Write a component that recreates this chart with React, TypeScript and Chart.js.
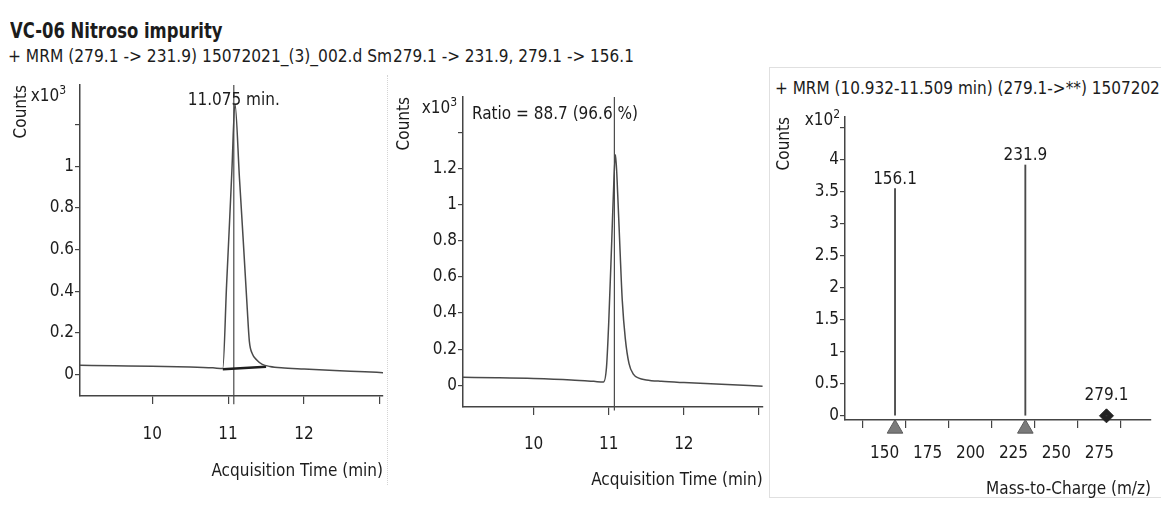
import React, { useEffect, useRef } from "react";
import { Chart, registerables } from "chart.js";

Chart.register(...registerables);

const FONT = '"DejaVu Sans Condensed", "Liberation Sans Narrow", "DejaVu Sans", sans-serif';
const INK = "#1c1c1c";
const LINE = "#444";

// ---------------- Data ----------------
// Panel 1: + MRM (279.1 -> 231.9), counts x10^3
const time1 = [9.05, 9.5, 10.0, 10.5, 10.8, 10.93, 10.98, 11.02, 11.05, 11.09, 11.15, 11.2, 11.25, 11.28, 11.32, 11.38, 11.45, 11.55, 11.7, 12.0, 12.4, 12.8, 13.04];
const counts1 = [0.045, 0.043, 0.041, 0.037, 0.033, 0.03, 0.43, 0.74, 0.98, 1.3, 0.94, 0.64, 0.33, 0.16, 0.1, 0.07, 0.05, 0.04, 0.033, 0.027, 0.02, 0.014, 0.01];
const integTime1 = [10.93, 11.5];
const integCounts1 = [0.026, 0.038];
const rt1 = 11.075;
const xLabeled1 = [10, 11, 12];
const yLabeled1 = [0, 0.2, 0.4, 0.6, 0.8, 1];

// Panel 2: 279.1 -> 231.9, 279.1 -> 156.1 overlay, counts x10^3
const time2 = [9.06, 9.5, 10.0, 10.5, 10.8, 10.93, 10.97, 11.0, 11.04, 11.07, 11.09, 11.12, 11.15, 11.18, 11.22, 11.27, 11.33, 11.4, 11.5, 11.7, 12.0, 12.5, 13.05];
const counts2 = [0.044, 0.042, 0.038, 0.03, 0.022, 0.018, 0.1, 0.35, 0.8, 1.15, 1.276, 1.05, 0.75, 0.47, 0.26, 0.12, 0.06, 0.04, 0.03, 0.022, 0.015, 0.006, -0.005];
const rt2 = 11.075;
const xLabeled2 = [10, 11, 12];
const yLabeled2 = [0, 0.2, 0.4, 0.6, 0.8, 1, 1.2];

// Panel 3: MRM spectrum, counts x10^2
const mz3 = [156.1, 231.9, 279.1];
const abund3 = [3.55, 3.92, 0];
const productIons3 = [156.1, 231.9];
const precursor3 = [279.1];
const xLabeled3 = [150, 175, 200, 225, 250, 275];
const yLabeled3 = [0, 0.5, 1, 1.5, 2, 2.5, 3, 3.5, 4];

// ---------------- Helpers ----------------
const FS = 17;
const tickFont = { family: FONT, size: FS };
const fmt = (v: number) => String(parseFloat(v.toFixed(2)));
const isLabeled = (list: number[], v: number) => list.some((l) => Math.abs(l - v) < 1e-6);

function xAxis(min: number, max: number, step: number, labeled: number[], title: string, height: number, tickPad: number, titlePad: number) {
  return {
    type: "linear",
    min,
    max,
    ticks: {
      stepSize: step,
      includeBounds: false,
      autoSkip: false,
      maxRotation: 0,
      color: INK,
      font: tickFont,
      padding: tickPad,
      callback: (v: any) => (isLabeled(labeled, Number(v)) ? fmt(Number(v)) : ""),
    },
    grid: { drawOnChartArea: false, drawTicks: true, tickLength: 8, color: LINE, lineWidth: 1.2 },
    border: { display: true, color: LINE, width: 1.5 },
    title: { display: true, text: title, align: "end", color: INK, font: tickFont, padding: { top: 0, bottom: titlePad } },
    afterFit: (s: any) => {
      s.height = height;
    },
  };
}

function yAxis(min: number, max: number, step: number, labeled: number[], width: number, titlePad: number) {
  return {
    type: "linear",
    min,
    max,
    ticks: {
      stepSize: step,
      includeBounds: false,
      autoSkip: false,
      color: INK,
      font: tickFont,
      padding: 1,
      callback: (v: any) => (isLabeled(labeled, Number(v)) ? fmt(Number(v)) : ""),
    },
    grid: { drawOnChartArea: false, drawTicks: true, tickLength: 5, color: LINE, lineWidth: 1.2 },
    border: { display: true, color: LINE, width: 1.5 },
    title: { display: true, text: "Counts", align: "end", color: INK, font: tickFont, padding: { top: titlePad, bottom: 0 } },
    afterFit: (s: any) => {
      s.width = width;
    },
  };
}

function drawExp(ctx: CanvasRenderingContext2D, right: number, cy: number, base: string, exp: string, size: number) {
  ctx.save();
  ctx.fillStyle = INK;
  ctx.textBaseline = "middle";
  ctx.textAlign = "left";
  ctx.font = `${size}px ${FONT}`;
  const wb = ctx.measureText(base).width;
  const small = Math.round(size * 0.7);
  ctx.font = `${small}px ${FONT}`;
  const we = ctx.measureText(exp).width;
  const x0 = right - wb - we;
  ctx.font = `${size}px ${FONT}`;
  ctx.fillText(base, x0, cy);
  ctx.font = `${small}px ${FONT}`;
  ctx.fillText(exp, x0 + wb, cy - size * 0.35);
  ctx.restore();
}

function drawText(ctx: CanvasRenderingContext2D, text: string, x: number, y: number, align: CanvasTextAlign) {
  ctx.save();
  ctx.fillStyle = INK;
  ctx.font = `${FS}px ${FONT}`;
  ctx.textAlign = align;
  ctx.textBaseline = "middle";
  ctx.fillText(text, x, y);
  ctx.restore();
}

const pts = (xs: number[], ys: number[]) => xs.map((x, i) => ({ x, y: ys[i] }));

// ---------------- Configs ----------------
function config1(): any {
  const yMin = -0.102;
  const yMax = 1.39;
  return {
    type: "line",
    data: {
      datasets: [
        { data: pts(time1, counts1), borderColor: "#4a4a4a", borderWidth: 1.5, pointRadius: 0, cubicInterpolationMode: "monotone" },
        { data: pts(integTime1, integCounts1), borderColor: "#1e1e1e", borderWidth: 2.6, pointRadius: 0 },
        { data: [{ x: rt1, y: yMin - 0.04 }, { x: rt1, y: yMax }], borderColor: "#4a4a4a", borderWidth: 1.2, pointRadius: 0, clip: false },
      ],
    },
    options: {
      animation: false,
      responsive: false,
      events: [],
      layout: { padding: { top: 15, right: 0, left: 0, bottom: 2 } },
      plugins: { legend: { display: false }, tooltip: { enabled: false } },
      scales: {
        x: xAxis(9.05, 13.04, 1, xLabeled1, "Acquisition Time (min)", 86, 20, 0),
        y: yAxis(yMin, yMax, 0.2, yLabeled1, 80, 11),
      },
    },
    plugins: [
      {
        id: "annot1",
        afterDatasetsDraw(chart: any) {
          const { ctx, chartArea: ca, scales } = chart;
          drawExp(ctx, ca.left - 14, ca.top + 12, "x10", "3", FS);
          drawText(ctx, "11.075 min.", scales.x.getPixelForValue(rt1), ca.top + 16, "center");
        },
      },
    ],
  };
}

function config2(): any {
  const yMin = -0.12;
  const yMax = 1.595;
  return {
    type: "line",
    data: {
      datasets: [
        { data: pts(time2, counts2), borderColor: "#4a4a4a", borderWidth: 1.5, pointRadius: 0, cubicInterpolationMode: "monotone" },
        { data: [{ x: rt2, y: yMin - 0.02 }, { x: rt2, y: yMax }], borderColor: "#4a4a4a", borderWidth: 1.2, pointRadius: 0, clip: false },
      ],
    },
    options: {
      animation: false,
      responsive: false,
      events: [],
      layout: { padding: { top: 27, right: 0, left: 0, bottom: 1 } },
      plugins: { legend: { display: false }, tooltip: { enabled: false } },
      scales: {
        x: xAxis(9.06, 13.05, 1, xLabeled2, "Acquisition Time (min)", 84, 19, 0),
        y: yAxis(yMin, yMax, 0.2, yLabeled2, 71, 2),
      },
    },
    plugins: [
      {
        id: "annot2",
        afterDatasetsDraw(chart: any) {
          const { ctx, chartArea: ca } = chart;
          drawExp(ctx, ca.left - 6, ca.top + 12, "x10", "3", FS);
          drawText(ctx, "Ratio = 88.7 (96.6 %)", ca.left + 9, ca.top + 18, "left");
        },
      },
    ],
  };
}

function config3(): any {
  const yMin = -0.065;
  const yMax = 4.67;
  return {
    type: "bar",
    data: {
      datasets: [
        { type: "bar", data: pts(mz3, abund3), backgroundColor: "#4a4a4a", barThickness: 1.2, borderWidth: 0 },
        {
          type: "scatter",
          data: productIons3.map((m) => ({ x: m, y: -0.2 })),
          pointStyle: "triangle",
          pointRadius: 9,
          backgroundColor: "#7a7a7a",
          borderColor: "#5a5a5a",
          borderWidth: 1,
          clip: false,
        },
        {
          type: "scatter",
          data: precursor3.map((m) => ({ x: m, y: abund3[mz3.indexOf(m)] })),
          pointStyle: "rectRot",
          pointRadius: 7,
          backgroundColor: "#222",
          borderColor: "#222",
          borderWidth: 1,
          clip: false,
        },
      ],
    },
    options: {
      animation: false,
      responsive: false,
      events: [],
      layout: { padding: { top: 17, right: 6, left: 0, bottom: 0 } },
      plugins: { legend: { display: false }, tooltip: { enabled: false } },
      scales: {
        x: { ...xAxis(127, 305, 25, xLabeled3, "Mass-to-Charge (m/z)", 80, 15, 0), offset: false },
        y: yAxis(yMin, yMax, 0.5, yLabeled3, 73, 2),
      },
    },
    plugins: [
      {
        id: "annot3",
        afterDatasetsDraw(chart: any) {
          const { ctx, chartArea: ca, scales } = chart;
          drawExp(ctx, ca.left - 5, ca.top + 4, "x10", "2", FS);
          mz3.forEach((m, i) => {
            const x = scales.x.getPixelForValue(m);
            const y = scales.y.getPixelForValue(abund3[i]);
            const isPre = precursor3.includes(m);
            drawText(ctx, m.toFixed(1), x, isPre ? y - 20 : y - 9, "center");
          });
        },
      },
    ],
  };
}

// ---------------- Components ----------------
function ChartCanvas(props: { left: number; top: number; width: number; height: number; make: () => any }) {
  const ref = useRef<HTMLCanvasElement | null>(null);
  useEffect(() => {
    const chart = new Chart(ref.current as HTMLCanvasElement, props.make());
    return () => chart.destroy();
  }, []);
  return (
    <canvas
      ref={ref}
      width={props.width}
      height={props.height}
      style={{ position: "absolute", left: props.left, top: props.top, width: props.width, height: props.height }}
    />
  );
}

const textBase: React.CSSProperties = { position: "absolute", whiteSpace: "nowrap", overflow: "hidden", color: INK, fontFamily: FONT };

export default function App() {
  return (
    <div style={{ position: "fixed", left: 0, top: 0, width: 1161, height: 505, background: "#fff", overflow: "hidden" }}>
      <div
        style={{
          ...textBase,
          left: 10,
          top: 17,
          fontSize: 22,
          fontWeight: "bold",
          lineHeight: "28px",
          overflow: "visible",
          transform: "scaleX(0.83)",
          transformOrigin: "left center",
        }}
      >
        VC-06 Nitroso impurity
      </div>
      <div style={{ ...textBase, left: 8, top: 45, width: 386, fontSize: 17.2, lineHeight: "22px" }}>
        + MRM (279.1 -&gt; 231.9) 15072021_(3)_002.d Sm
      </div>
      <div style={{ ...textBase, left: 393, top: 45, fontSize: FS, lineHeight: "22px" }}>279.1 -&gt; 231.9, 279.1 -&gt; 156.1</div>
      <div style={{ ...textBase, left: 775, top: 77, width: 386, fontSize: FS, lineHeight: "22px" }}>
        + MRM (10.932-11.509 min) (279.1-&gt;**) 1507202
      </div>

      {/* faint panel borders */}
      <div style={{ position: "absolute", left: 387, top: 75, width: 0, height: 410, borderLeft: "1px dotted #d4d4d4" }} />
      <div style={{ position: "absolute", left: 769, top: 67, width: 400, height: 429, border: "1px solid #e0e0e0" }} />

      <ChartCanvas left={0} top={70} width={400} height={414} make={config1} />
      <ChartCanvas left={392} top={70} width={386} height={422} make={config2} />
      <ChartCanvas left={772} top={100} width={389} height={400} make={config3} />
    </div>
  );
}
